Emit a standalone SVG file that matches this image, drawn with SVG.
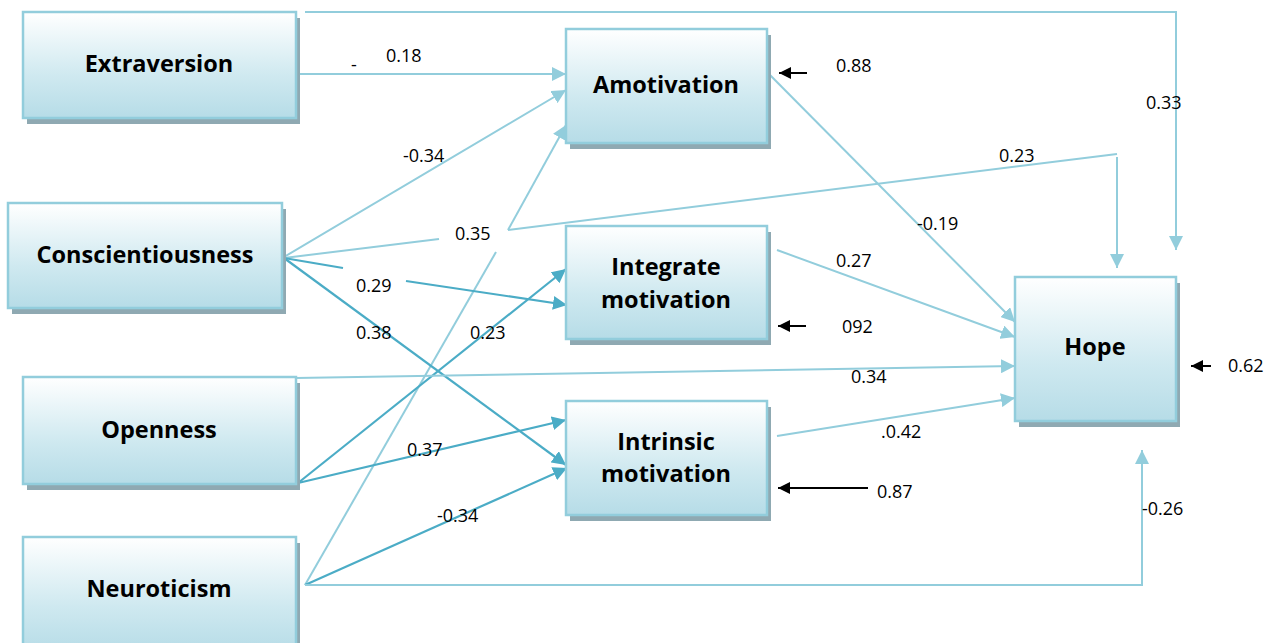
<svg xmlns="http://www.w3.org/2000/svg" width="1274" height="643" viewBox="0 0 1274 643">
<defs>
<linearGradient id="g" x1="0" y1="0" x2="0" y2="1">
<stop offset="0" stop-color="#FFFFFF"/>
<stop offset="0.6" stop-color="#CFE9F0"/>
<stop offset="1" stop-color="#B6DCE7"/>
</linearGradient>
<marker id="al" markerUnits="userSpaceOnUse" markerWidth="16" markerHeight="14" refX="14" refY="7" orient="auto"><path d="M0,0 L14,7 L0,14 z" fill="#92CDDC"/></marker>
<marker id="ad" markerUnits="userSpaceOnUse" markerWidth="16" markerHeight="14" refX="14" refY="7" orient="auto"><path d="M0,0 L14,7 L0,14 z" fill="#4BACC6"/></marker>
<marker id="ab" markerUnits="userSpaceOnUse" markerWidth="14" markerHeight="12" refX="12" refY="6" orient="auto"><path d="M0,0 L12,6 L0,12 z" fill="#000"/></marker>
</defs>
<style>
.sh{fill:#8FA9B2}
.bx{fill:url(#g);stroke:#92CDDC;stroke-width:2.5}
.t{font-family:"Open Sans","Noto Sans",sans-serif;font-weight:bold;font-size:23.5px;fill:#000;text-anchor:middle}
.lb{font-family:"Open Sans","Noto Sans",sans-serif;font-size:18px;fill:#000}
.l{fill:none;stroke:#92CDDC;stroke-width:2}
.d{fill:none;stroke:#4BACC6;stroke-width:2.2}
.k{fill:none;stroke:#000;stroke-width:2}
</style>
<rect width="1274" height="643" fill="#fff"/>
<g id="connectors">
<path class="l" d="M296,74 L566,74" marker-end="url(#al)"/>
<path class="l" d="M305,12 L1176,12 L1176,250" marker-end="url(#al)"/>
<path class="l" d="M284,257 L566,90" marker-end="url(#al)"/>
<path class="l" d="M284,258 L439,239"/>
<path class="l" d="M508,230 L1117,154"/>
<path class="l" d="M1117,157 L1117,268" marker-end="url(#al)"/>
<path class="l" d="M305,585 L496,252"/>
<path class="l" d="M508,230 L566,125" marker-end="url(#al)"/>
<path class="d" d="M284,258 L343,268"/>
<path class="d" d="M406,281 L567,305" marker-end="url(#ad)"/>
<path class="d" d="M284,258 L566,465" marker-end="url(#ad)"/>
<path class="d" d="M298,483 L566,269" marker-end="url(#ad)"/>
<path class="d" d="M298,483 L566,420" marker-end="url(#ad)"/>
<path class="l" d="M296,378 L1015,366" marker-end="url(#al)"/>
<path class="d" d="M305,585 L567,468" marker-end="url(#ad)"/>
<path class="l" d="M305,585 L1142,585 L1142,450" marker-end="url(#al)"/>
<path class="l" d="M768,73 L1015,322" marker-end="url(#al)"/>
<path class="l" d="M777,250 L1015,337" marker-end="url(#al)"/>
<path class="l" d="M777,436 L1015,398" marker-end="url(#al)"/>
<path class="k" d="M807,73 L779,73" marker-end="url(#ab)"/>
<path class="k" d="M806,326 L778,326" marker-end="url(#ab)"/>
<path class="k" d="M868,488 L778,488" marker-end="url(#ab)"/>
<path class="k" d="M1211,366 L1191,366" marker-end="url(#ab)"/>
</g>
<g id="labels">
<text class="lb" x="351" y="71">-</text>
<text class="lb" x="386" y="62">0.18</text>
<text class="lb" x="836" y="72">0.88</text>
<text class="lb" x="1146" y="109">0.33</text>
<text class="lb" x="403" y="162">-0.34</text>
<text class="lb" x="999" y="162">0.23</text>
<text class="lb" x="455" y="240">0.35</text>
<text class="lb" x="917" y="230">-0.19</text>
<text class="lb" x="836" y="267">0.27</text>
<text class="lb" x="356" y="292">0.29</text>
<text class="lb" x="356" y="339">0.38</text>
<text class="lb" x="470" y="339">0.23</text>
<text class="lb" x="842" y="333">092</text>
<text class="lb" x="1228" y="372">0.62</text>
<text class="lb" x="851" y="383">0.34</text>
<text class="lb" x="881" y="438">.0.42</text>
<text class="lb" x="407" y="456">0.37</text>
<text class="lb" x="877" y="498">0.87</text>
<text class="lb" x="1142" y="515">-0.26</text>
<text class="lb" x="437" y="522">-0.34</text>
</g>
<g id="extraversion">
<rect class="sh" x="27" y="18" width="273" height="106"/>
<rect class="bx" x="23" y="12" width="273" height="106"/>
<text class="t" x="159" y="72">Extraversion</text>
</g>
<g id="conscientiousness">
<rect class="sh" x="12" y="209" width="274" height="105"/>
<rect class="bx" x="8" y="203" width="274" height="105"/>
<text class="t" x="145" y="263">Conscientiousness</text>
</g>
<g id="openness">
<rect class="sh" x="27" y="383" width="273" height="107"/>
<rect class="bx" x="23" y="377" width="273" height="107"/>
<text class="t" x="159" y="438">Openness</text>
</g>
<g id="neuroticism">
<rect class="sh" x="27" y="543" width="273" height="115"/>
<rect class="bx" x="23" y="537" width="273" height="115"/>
<text class="t" x="159" y="597">Neuroticism</text>
</g>
<g id="amotivation">
<rect class="sh" x="570" y="35" width="201" height="114"/>
<rect class="bx" x="566" y="29" width="201" height="114"/>
<text class="t" x="666" y="93">Amotivation</text>
</g>
<g id="integrate">
<rect class="sh" x="570" y="232" width="201" height="113"/>
<rect class="bx" x="566" y="226" width="201" height="113"/>
<text class="t" x="666" y="275">Integrate</text>
<text class="t" x="666" y="308">motivation</text>
</g>
<g id="intrinsic">
<rect class="sh" x="570" y="407" width="201" height="114"/>
<rect class="bx" x="566" y="401" width="201" height="114"/>
<text class="t" x="666" y="450">Intrinsic</text>
<text class="t" x="666" y="482">motivation</text>
</g>
<g id="hope">
<rect class="sh" x="1019" y="283" width="161" height="144"/>
<rect class="bx" x="1015" y="277" width="161" height="144"/>
<text class="t" x="1095" y="355">Hope</text>
</g>
</svg>
